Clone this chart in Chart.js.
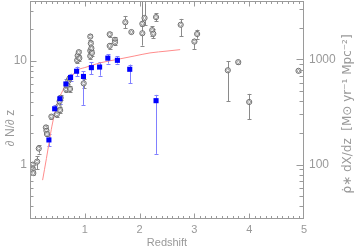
<!DOCTYPE html>
<html><head><meta charset="utf-8">
<script src="https://cdn.jsdelivr.net/npm/chart.js@4/dist/chart.umd.min.js"></script>
<style>html,body{margin:0;padding:0;background:#fff}#wrap{width:357px;height:248px;position:relative}</style>
</head><body><div id="wrap"><canvas id="c"></canvas></div>
<script>
// Open symbols (literature points): redshift, dN/dz, error low, error high
const openZ  = [0.05,0.05,0.06,0.13,0.16,0.29,0.30,0.31,0.39,0.49,0.52,0.54,0.56,0.55,0.66,0.68,0.70,0.72,0.73,0.86,0.87,0.89,0.90,0.98,1.10,1.10,1.13,1.12,1.11,1.10,1.455,1.455,1.55,1.55,1.74,1.85,2.05,2.05,2.09,2.30,2.23,2.25,2.75,3.00,3.05,3.61,3.80,4.00,4.90];
const openV  = [1.00,0.90,0.83,1.07,1.43,2.28,2.12,1.97,2.90,3.05,3.65,4.07,4.40,3.35,5.30,5.80,6.40,6.75,5.35,10.1,11.2,12.1,10.6,6.06,11.1,12.5,11.9,13.2,14.7,17.1,18.0,13.9,15.9,15.0,23.5,18.9,22.7,18.4,25.8,26.3,19.7,18.2,22.2,15.3,18.1,8.1,9.7,4.01,8.0];
const openLo = [0.96,0.87,0.80,0.90,1.28,2.15,2.02,1.88,2.78,2.88,3.45,3.80,4.15,3.15,4.95,5.45,6.00,6.35,5.00,9.5,10.6,11.4,10.0,5.44,10.5,11.8,11.2,12.4,13.9,16.0,17.0,13.0,15.0,14.1,20.6,18.3,18.0,14.0,22.0,23.9,17.5,16.5,17.3,13.0,16.3,4.07,9.4,2.73,7.8];
const openHi = [1.04,0.93,0.86,1.21,1.54,2.42,2.22,2.06,3.02,3.20,3.85,4.30,4.65,3.55,5.60,6.10,6.80,7.15,5.70,10.7,11.8,12.8,11.2,6.75,11.7,13.2,12.6,14.0,15.5,18.2,19.0,14.8,16.8,15.9,27.0,19.5,40.0,21.5,40.0,28.7,21.5,20.0,25.3,16.3,19.9,9.85,10.0,4.8,8.2];
// Filled blue squares (this work)
const blueZ  = [0.345,0.45,0.545,0.655,0.74,0.85,0.976,1.12,1.27,1.42,1.595,1.82,2.30];
const blueV  = [1.73,3.45,4.31,5.98,6.91,7.93,7.06,8.59,8.70,10.6,10.1,8.28,4.13];
const blueLo = [1.50,3.16,3.84,5.25,6.40,7.10,3.76,7.40,7.18,9.40,9.40,6.05,1.27];
const blueHi = [1.97,3.76,4.70,6.75,7.50,8.80,7.93,9.70,9.70,11.6,11.1,9.20,4.70];
// Red fit curve
const fitZ = [0.23,0.30,0.35,0.40,0.50,0.60,0.66,0.75,0.86,1.00,1.12,1.30,1.59,1.90,2.19,2.50,2.74];
const fitV = [0.71,1.15,1.65,2.35,3.90,5.20,5.98,7.00,8.10,8.60,9.00,9.60,10.3,11.1,11.9,12.4,12.8];
// Axes
const xTickLabels = [1,2,3,4,5];
const yLabels = [1,10];
const y2Labels = [100,1000];
const xMin=0, xMax=5, yMin=0.33, yMax=37.6, y2Min=30.3, y2Max=3600;

const txt='#999', axisCol='#9a9a9a';
const fam='"Liberation Sans", "DejaVu Sans", sans-serif';
const pts=(a,b)=>a.map((v,i)=>({x:v,y:b[i]}));

function drawErr(ctx,x,y,zs,lo,hi,col){
  ctx.strokeStyle=col; ctx.lineWidth=1;
  for(let i=0;i<zs.length;i++){
    const px=Math.round(x.getPixelForValue(zs[i]))+0.5;
    const a=y.getPixelForValue(lo[i]), b=y.getPixelForValue(hi[i]);
    ctx.beginPath();
    ctx.moveTo(px,a); ctx.lineTo(px,b);
    ctx.moveTo(px-2,Math.round(a)+0.5); ctx.lineTo(px+2,Math.round(a)+0.5);
    ctx.moveTo(px-2,Math.round(b)+0.5); ctx.lineTo(px+2,Math.round(b)+0.5);
    ctx.stroke();
  }
}
function logVals(mn,mx){
  const out=[];
  for(let d=Math.floor(Math.log10(mn));d<=Math.ceil(Math.log10(mx));d++){
    for(let m=1;m<=9;m++){const v=m*Math.pow(10,d); if(v>mn*1.0001&&v<mx*0.9999) out.push({v,major:m===1});}
  }
  return out;
}
const decor={
  id:'decor',
  beforeDatasetsDraw(chart){
    const {ctx,chartArea:a,scales:{x,y}}=chart;
    ctx.save(); ctx.beginPath(); ctx.rect(a.left,a.top,a.right-a.left,a.bottom-a.top); ctx.clip();
    drawErr(ctx,x,y,openZ,openLo,openHi,'#8a8a8a');
    drawErr(ctx,x,y,blueZ,blueLo,blueHi,'#8080ff');
    ctx.restore();
  },
  afterDraw(chart){
    const {ctx,chartArea:a,scales:{x,y,y2}}=chart;
    ctx.save();
    ctx.strokeStyle=axisCol; ctx.lineWidth=1;
    const L=Math.round(a.left)+0.5,R=Math.round(a.right)-0.5,T=Math.round(a.top)+0.5,B=Math.round(a.bottom)-0.5;
    ctx.strokeRect(L,T,R-L,B-T);
    ctx.beginPath();
    for(let k=1;k<50;k++){
      const v=k/10, px=Math.round(x.getPixelForValue(v))+0.5, major=(k%10===0), len=major?5:2.5;
      ctx.moveTo(px,B); ctx.lineTo(px,B-len);
      ctx.moveTo(px,T); ctx.lineTo(px,T+len);
    }
    logVals(yMin,yMax).forEach(t=>{const py=Math.round(y.getPixelForValue(t.v))+0.5,len=t.major?6:3; ctx.moveTo(L,py); ctx.lineTo(L+len,py);});
    logVals(y2Min,y2Max).forEach(t=>{const py=Math.round(y2.getPixelForValue(t.v))+0.5,len=t.major?7:4; ctx.moveTo(R,py); ctx.lineTo(R-len,py);});
    ctx.stroke();
    ctx.fillStyle=txt;
    // tick labels
    ctx.font='11px '+fam; ctx.textAlign='center'; ctx.textBaseline='top';
    xTickLabels.forEach(v=>ctx.fillText(String(v),x.getPixelForValue(v),224));
    ctx.font='12px '+fam; ctx.textAlign='right'; ctx.textBaseline='middle';
    yLabels.forEach(v=>ctx.fillText(String(v),27,y.getPixelForValue(v)));
    ctx.textAlign='left';
    y2Labels.forEach(v=>ctx.fillText(String(v),309,y2.getPixelForValue(v)));
    // titles
    ctx.textAlign='center'; ctx.textBaseline='middle';
    ctx.font='11px '+fam;
    ctx.fillText('Redshift',(a.left+a.right)/2,243);
    ctx.save(); ctx.translate(11,128); ctx.rotate(-Math.PI/2);
    ctx.font='12px '+fam; ctx.fillText('\u2202 N/\u2202 z',0,0); ctx.restore();
    ctx.save(); ctx.translate(348,114); ctx.rotate(-Math.PI/2);
    ctx.font='12px "DejaVu Sans", sans-serif'; ctx.fillText('\u03C1\u0307\u2217 dX/dz  [M\u2299 yr\u207B\u00B9 Mpc\u207B\u00B2]',0,0); ctx.restore();
    ctx.restore();
  }
};

new Chart(document.getElementById('c'),{
  type:'scatter',
  data:{datasets:[
    {data:pts(fitZ,fitV),showLine:true,borderColor:'#ff8c8c',borderWidth:1,pointRadius:0,cubicInterpolationMode:'monotone',order:4},
    {data:pts(openZ,openV),pointStyle:'circle',pointRadius:2.6,borderColor:'#606060',borderWidth:0.9,backgroundColor:'rgba(255,255,255,0.9)',order:3},
    {data:pts(openZ,openV),pointStyle:'rectRot',pointRadius:1.7,borderColor:'#707070',borderWidth:0.7,backgroundColor:'rgba(0,0,0,0)',order:2},
    {data:pts(blueZ,blueV),pointStyle:'rect',pointRadius:3.6,borderColor:'#0000ff',backgroundColor:'#0000ff',borderWidth:0,order:1}
  ]},
  options:{
    responsive:true,maintainAspectRatio:false,animation:false,devicePixelRatio:1,
    layout:{autoPadding:false,padding:{top:1,left:0,right:0,bottom:0}},
    plugins:{legend:{display:false},tooltip:{enabled:false}},
    scales:{
      x:{type:'linear',position:'bottom',min:xMin,max:xMax,grid:{display:false,drawTicks:false},border:{display:false},
         ticks:{display:false},afterFit:s=>{s.height=29;}},
      y:{type:'logarithmic',position:'left',min:yMin,max:yMax,grid:{display:false,drawTicks:false},border:{display:false},
         ticks:{display:false},afterFit:s=>{s.width=30;}},
      y2:{type:'logarithmic',position:'right',min:y2Min,max:y2Max,grid:{display:false,drawTicks:false},border:{display:false},
         ticks:{display:false},afterFit:s=>{s.width=53;}}
    }
  },
  plugins:[decor]
});
</script></body></html>
